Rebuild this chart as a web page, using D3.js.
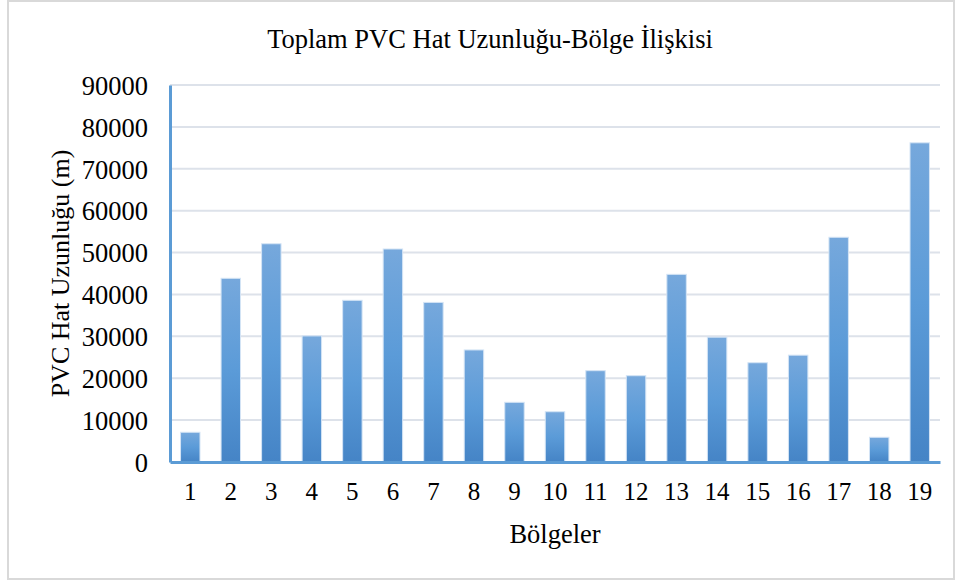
<!DOCTYPE html>
<html>
<head>
<meta charset="utf-8">
<script src="https://cdn.jsdelivr.net/npm/d3@7"></script>
<style>
  body { margin: 0; background: #fff; }
  text { font-family: "Liberation Serif", "Times New Roman", serif; fill: #000; }
</style>
</head>
<body>
<svg id="chart" width="960" height="583"></svg>
<script>
const regions = ['1','2','3','4','5','6','7','8','9','10','11','12','13','14','15','16','17','18','19'];
const lengths = [7100, 43850, 52100, 30100, 38600, 50850, 38100, 26750, 14250, 12000, 21800, 20600, 44800, 29800, 23700, 25500, 53650, 5900, 76200];
const yTicks = [0, 10000, 20000, 30000, 40000, 50000, 60000, 70000, 80000, 90000];

const svg = d3.select('#chart');
const margin = { left: 170, right: 20, top: 85, bottom: 121 };
const W = 960, H = 583;

// outer frame
svg.append('rect')
  .attr('x', 8).attr('y', 1)
  .attr('width', 946).attr('height', 578)
  .attr('fill', '#fff')
  .attr('stroke', '#d9d9d9')
  .attr('stroke-width', 2);

const x = d3.scaleBand()
  .domain(regions)
  .range([margin.left, W - margin.right])
  .paddingInner(0.52)
  .paddingOuter(0.26);

const y = d3.scaleLinear()
  .domain([0, 90000])
  .range([H - margin.bottom, margin.top]);

const defs = svg.append('defs');
const grad = defs.append('linearGradient')
  .attr('id', 'barGrad')
  .attr('x1', 0).attr('y1', 0).attr('x2', 0).attr('y2', 1);
grad.append('stop').attr('offset', '0%').attr('stop-color', '#76a8dc');
grad.append('stop').attr('offset', '50%').attr('stop-color', '#5b9bd8');
grad.append('stop').attr('offset', '100%').attr('stop-color', '#4584c6');

// gridlines
svg.append('g')
  .selectAll('line')
  .data(yTicks.slice(1))
  .join('line')
  .attr('x1', margin.left)
  .attr('x2', W - margin.right)
  .attr('y1', d => y(d))
  .attr('y2', d => y(d))
  .attr('stroke', '#dde2ea')
  .attr('stroke-width', 2);

// bars
svg.append('g')
  .selectAll('rect')
  .data(lengths)
  .join('rect')
  .attr('x', (d, i) => x(regions[i]))
  .attr('y', d => y(d))
  .attr('width', x.bandwidth())
  .attr('height', d => y(0) - y(d))
  .attr('fill', 'url(#barGrad)')
  .attr('stroke', '#d4e4f5')
  .attr('stroke-width', 1);

// y axis
const yAxis = svg.append('g')
  .attr('transform', `translate(${margin.left},0)`)
  .call(d3.axisLeft(y).tickValues(yTicks).tickSize(0).tickPadding(22).tickFormat(d3.format('d')));
yAxis.select('.domain').attr('stroke', '#5b9bd5').attr('stroke-width', 3);
yAxis.selectAll('text').attr('font-size', 26.5).attr('dy', '0.35em');

// x axis
const xAxis = svg.append('g')
  .attr('transform', `translate(0,${y(0)})`)
  .call(d3.axisBottom(x).tickSize(0).tickPadding(20));
xAxis.select('.domain').attr('stroke', '#5b9bd5').attr('stroke-width', 3);
xAxis.selectAll('text').attr('font-size', 25);

// titles
svg.append('text')
  .attr('x', 490).attr('y', 48)
  .attr('text-anchor', 'middle')
  .attr('font-size', 26.5)
  .text('Toplam PVC Hat Uzunluğu-Bölge İlişkisi');

svg.append('text')
  .attr('x', (margin.left + W - margin.right) / 2)
  .attr('y', 543)
  .attr('text-anchor', 'middle')
  .attr('font-size', 26.5)
  .text('Bölgeler');

svg.append('text')
  .attr('transform', `translate(69,${(y(0) + y(90000)) / 2}) rotate(-90)`)
  .attr('text-anchor', 'middle')
  .attr('font-size', 26)
  .text('PVC Hat Uzunluğu (m)');
</script>
</body>
</html>
